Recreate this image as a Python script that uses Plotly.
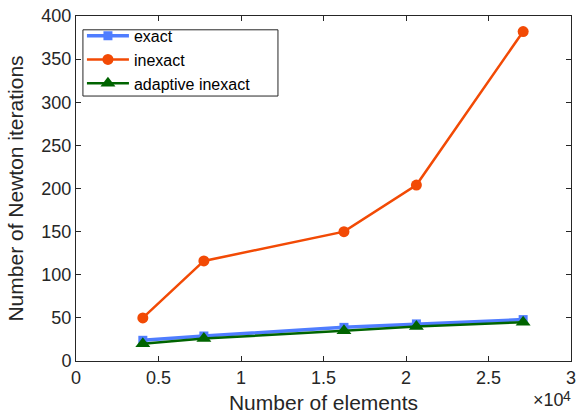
import plotly.graph_objects as go

elements = [4050, 7750, 16240, 20630, 27100]
exact = [24, 29, 39, 43, 48]
inexact = [50, 116, 150, 204, 382]
adaptive = [20, 26, 35, 40, 45]

x_ticks = [0, 5000, 10000, 15000, 20000, 25000, 30000]
x_tick_labels = ["0", "0.5", "1", "1.5", "2", "2.5", "3"]

font = "Liberation Sans, Arial, sans-serif"
axcol = "#262626"

fig = go.Figure()
fig.add_trace(go.Scatter(x=elements, y=exact, name="exact", mode="lines+markers",
                         line=dict(color="#4F7DFF", width=3.5),
                         marker=dict(symbol="square", size=9, color="#4F7DFF")))
fig.add_trace(go.Scatter(x=elements, y=inexact, name="inexact", mode="lines+markers",
                         line=dict(color="#F24A05", width=2.5),
                         marker=dict(symbol="circle", size=11, color="#F24A05")))
fig.add_trace(go.Scatter(x=elements, y=adaptive, name="adaptive inexact", mode="lines+markers",
                         line=dict(color="#006400", width=2.5),
                         marker=dict(symbol="triangle-up", size=13, color="#006400")))

fig.update_layout(
    width=582, height=417,
    margin=dict(l=76, r=6, t=12, b=56),
    paper_bgcolor="white", plot_bgcolor="white",
    font=dict(family=font, size=18, color=axcol),
    showlegend=True,
    legend=dict(x=0.012, y=0.992, xanchor="left", yanchor="top",
                bgcolor="rgba(0,0,0,0)", borderwidth=0,
                font=dict(size=16, color="black"), tracegroupgap=0,
                itemwidth=42),
)
# legend frame
fig.add_shape(type="rect", xref="paper", yref="paper", x0=0.014, x1=0.408, y0=0.768, y1=0.960,
              line=dict(color=axcol, width=1), fillcolor="white", layer="above")
fig.update_xaxes(range=[0, 30000], tickvals=x_ticks, ticktext=x_tick_labels,
                 ticks="inside", ticklen=5, tickcolor=axcol, showline=True, linecolor=axcol,
                 linewidth=1, mirror="ticks", showgrid=False, zeroline=False,
                 tickfont=dict(size=18),
                 title=dict(text="Number of elements", font=dict(size=21), standoff=8))
fig.update_yaxes(range=[0, 400], tickvals=list(range(0, 401, 50)),
                 ticks="inside", ticklen=5, tickcolor=axcol, showline=True, linecolor=axcol,
                 linewidth=1, mirror="ticks", showgrid=False, zeroline=False,
                 tickfont=dict(size=18),
                 title=dict(text="Number of Newton iterations", font=dict(size=21), standoff=12))
fig.add_annotation(x=1, y=0, xref="paper", yref="paper", showarrow=False,
                   text="×10", font=dict(size=18, color=axcol),
                   xanchor="right", yanchor="middle", xshift=-5, yshift=-39)
fig.add_annotation(x=1, y=0, xref="paper", yref="paper", showarrow=False,
                   text="4", font=dict(size=14, color=axcol),
                   xanchor="right", yanchor="middle", xshift=2, yshift=-35)
fig.write_html("out.html")
